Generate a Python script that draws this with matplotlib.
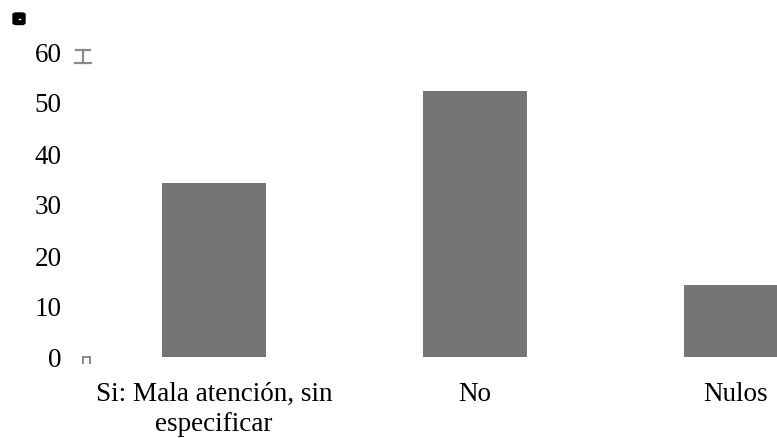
import matplotlib
matplotlib.use("Agg")
import matplotlib.pyplot as plt
from matplotlib.lines import Line2D
from matplotlib.patches import FancyBboxPatch

categories = ["Si: Mala atención, sin\nespecificar", "No", "Nulos"]
values = [34.2, 52.2, 14.2]
yticks = [0, 10, 20, 30, 40, 50, 60]

plt.rcParams['font.family'] = ['Liberation Serif', 'DejaVu Serif']

W, H = 777, 439
fig = plt.figure(figsize=(W / 100, H / 100), dpi=100)
left_px, right_px, top_px, bot_px = 88, 777, 52, 358
ax = fig.add_axes([left_px / W, (H - bot_px) / H, (right_px - left_px) / W, (bot_px - top_px) / H])

x = list(range(len(categories)))
ax.bar(x, values, width=0.4, color="#757575")
ax.set_xlim((left_px - 214) / 261, (right_px - 214) / 261)
ax.set_ylim(0, 60)
ax.set_yticks(yticks)
ax.set_yticklabels([str(v) for v in yticks], fontsize=19.5)
ax.set_xticks(x)
ax.set_xticklabels(categories, fontsize=19.5, linespacing=1.3)
ax.tick_params(axis="y", length=0, pad=19)
ax.tick_params(axis="x", length=0, pad=17)
for s in ax.spines.values():
    s.set_visible(False)

# small decorations seen in the reference
def px(xp, yp):
    return xp / W, (H - yp) / H

fig.add_artist(FancyBboxPatch(px(13, 25.5), 12 / W, 11.5 / H, boxstyle="round,pad=0,rounding_size=0.004",
                              transform=fig.transFigure, facecolor="black", edgecolor="black"))
fig.add_artist(Line2D(*zip(px(18.5, 19.5), px(19.5, 19.5)), transform=fig.transFigure, color="white", lw=1))
g = "#8a8a8a"
for (a, b) in [((76, 51), (90, 51)), ((75, 64), (91, 64)), ((83, 51), (83, 64))]:
    fig.add_artist(Line2D(*zip(px(*a), px(*b)), transform=fig.transFigure, color=g, lw=1.6))
for (a, b) in [((83, 364), (83, 357.5)), ((83, 357.5), (90, 357.5)), ((90, 357.5), (90, 364))]:
    fig.add_artist(Line2D(*zip(px(*a), px(*b)), transform=fig.transFigure, color=g, lw=1.4))

fig.savefig("out.png", dpi=100)
